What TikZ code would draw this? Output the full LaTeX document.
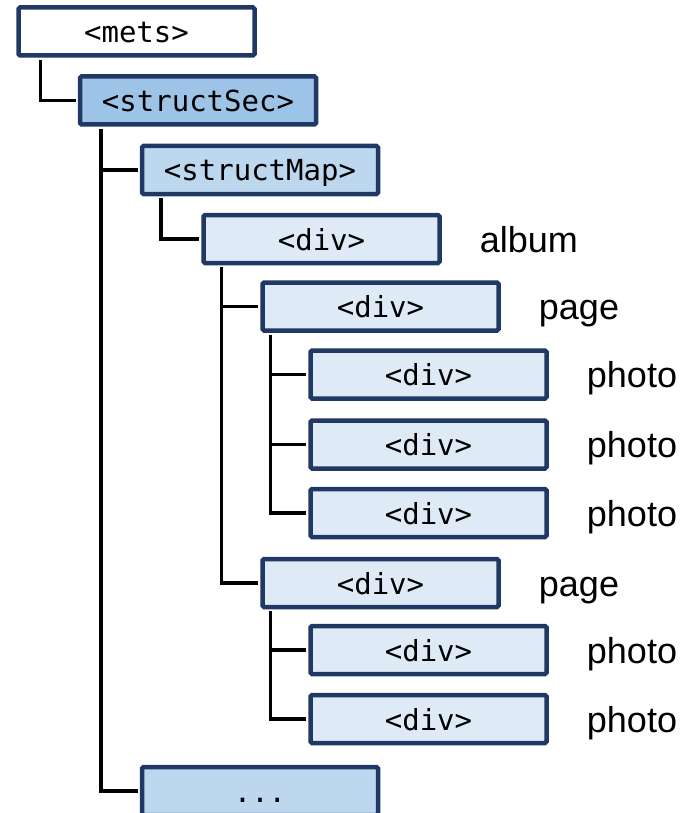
\documentclass[tikz,border=0pt]{standalone}
\usepackage{fontspec}
\setmainfont{Liberation Sans}
\setmonofont{DejaVu Sans Mono}
\usetikzlibrary{positioning}

\definecolor{navy}{HTML}{1F3864}
\definecolor{secblue}{HTML}{9DC3E6}
\definecolor{mapblue}{HTML}{BDD7EE}
\definecolor{divblue}{HTML}{DEEBF7}

\begin{document}
\begin{tikzpicture}[x=1pt, y=-1pt,
        elemnode/.style={rectangle, draw=navy, fill=white, line width=4.5pt, rounded corners=1.5pt,
            minimum width=236pt, minimum height=48pt, inner sep=0pt,
            font=\ttfamily\fontsize{29}{29}\selectfont, text height=22pt, text depth=0pt},
        secnode/.style={elemnode, fill=secblue},
        mapnode/.style={elemnode, fill=mapblue},
        divnode/.style={elemnode, fill=divblue},
        labelnode/.style={inner sep=0pt, font=\fontsize{36}{36}\selectfont, text height=26pt, text depth=0pt},
        treeline/.style={line width=3.5pt, shorten <=2pt, shorten >=2pt},
        ]
        \useasboundingbox (0,0) rectangle (687,813);

        %Nodes
        \node[elemnode]     (mets)      at (136.5,31.5)  {<mets>};
        \node[secnode]      (structsec) at (198,100.5)   {<structSec>};
        \node[mapnode]      (structmap) at (260,170)     {<structMap>};
        \node[divnode]      (album)     at (321.5,239)   {<div>};
        \node[divnode]      (pageA)     at (380.5,306.5) {<div>};
        \node[divnode]      (photoA)    at (428.5,374.5) {<div>};
        \node[divnode]      (photoB)    at (428.5,444.5) {<div>};
        \node[divnode]      (photoC)    at (428.5,513)   {<div>};
        \node[divnode]      (pageB)     at (380.5,583)   {<div>};
        \node[divnode]      (photoD)    at (428.5,650)   {<div>};
        \node[divnode]      (photoE)    at (428.5,719)   {<div>};
        \node[mapnode]      (more)      at (260,791)     {...};

        %Labels
        \node[labelnode, anchor=west] (albumlabel)  [right=38pt of album]  {album};
        \node[labelnode, anchor=west] (pageAlabel)  [right=38pt of pageA]  {page};
        \node[labelnode, anchor=west] (photoAlabel) [right=38pt of photoA] {photo};
        \node[labelnode, anchor=west] (photoBlabel) [right=38pt of photoB] {photo};
        \node[labelnode, anchor=west] (photoClabel) [right=38pt of photoC] {photo};
        \node[labelnode, anchor=west] (pageBlabel)  [right=38pt of pageB]  {page};
        \node[labelnode, anchor=west] (photoDlabel) [right=38pt of photoD] {photo};
        \node[labelnode, anchor=west] (photoElabel) [right=38pt of photoE] {photo};

        %Lines
        \draw[treeline] ([xshift=24pt]mets.south west) |- (structsec.west);
        \draw[treeline] ([xshift=23pt]structsec.south west) |- (structmap.west);
        \draw[treeline] ([xshift=23pt]structsec.south west) |- (more.west);
        \draw[treeline] ([xshift=21pt]structmap.south west) |- (album.west);
        \draw[treeline] ([xshift=20pt]album.south west) |- (pageA.west);
        \draw[treeline] ([xshift=20pt]album.south west) |- (pageB.west);
        \foreach \child in {photoA, photoB, photoC}
            \draw[treeline] ([xshift=10pt]pageA.south west) |- (\child.west);
        \foreach \child in {photoD, photoE}
            \draw[treeline] ([xshift=10pt]pageB.south west) |- (\child.west);
\end{tikzpicture}
\end{document}
